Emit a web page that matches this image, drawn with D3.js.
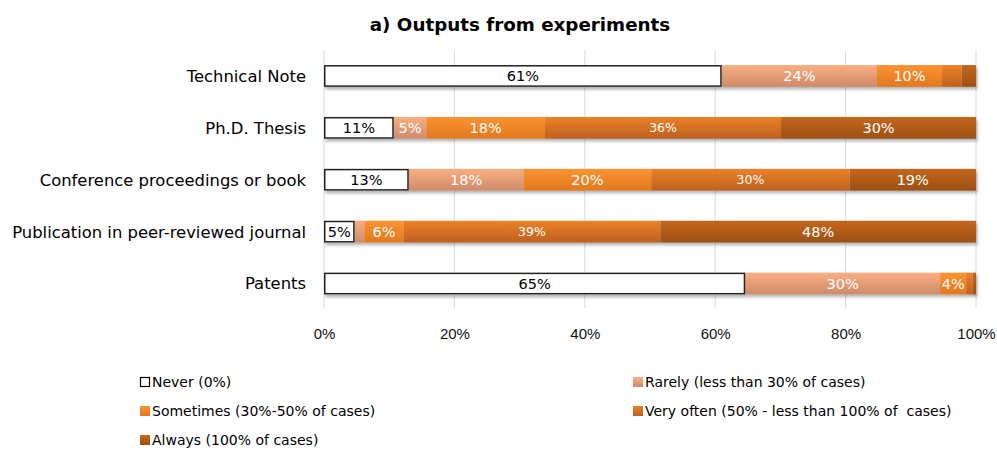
<!DOCTYPE html>
<html>
<head>
<meta charset="utf-8">
<script src="https://cdn.jsdelivr.net/npm/d3@7"></script>
<style>
  body { margin: 0; background: #fff; }
  svg { font-family: "DejaVu Sans", Verdana, sans-serif; }
</style>
</head>
<body>
<div id="chart"></div>
<script>
// categories, top to bottom
const outputs = ["Technical Note", "Ph.D. Thesis", "Conference proceedings or book",
                 "Publication in peer-reviewed journal", "Patents"];
const answers = ["Never (0%)", "Rarely (less than 30% of cases)", "Sometimes (30%-50% of cases)",
                 "Very often (50% - less than 100% of  cases)", "Always (100% of cases)"];
// % per answer, same order as outputs
const never     = [61, 10.7, 13, 4.7, 64.6];
const rarely    = [23.8, 5, 17.6, 1.5, 29.9];
const sometimes = [10, 18.2, 19.6, 6, 4];
const veryOften = [3, 36.2, 30.4, 39.4, 1];
const always    = [2.2, 29.9, 19.4, 48.4, 0.5];
const xTicks = [0, 20, 40, 60, 80, 100];

const width = 997, height = 450;
const margin = {left: 324, right: 21, top: 50, bottom: 309.5};

const svg = d3.select("#chart").append("svg")
    .attr("width", width)
    .attr("height", height);

const defs = svg.append("defs");
const colors = [
    ["#ffffff", "#ffffff"],
    ["#fbaf82", "#cd8a6a"],
    ["#fc9332", "#e1781f"],
    ["#ec8229", "#bd6020"],
    ["#c4671d", "#9c5014"]
];
colors.forEach((c, i) => {
    let g = defs.append("linearGradient").attr("id", "grad" + i)
        .attr("x1", 0).attr("y1", 0).attr("x2", 0).attr("y2", 1);
    g.append("stop").attr("offset", "0%").attr("stop-color", c[0]);
    g.append("stop").attr("offset", "100%").attr("stop-color", c[1]);
});
let shadow = defs.append("filter").attr("id", "shadow")
    .attr("x", "-5%").attr("y", "-20%").attr("width", "110%").attr("height", "160%");
shadow.append("feDropShadow").attr("dx", 1.5).attr("dy", 2.5)
    .attr("stdDeviation", 1.5).attr("flood-color", "#000").attr("flood-opacity", 0.3);

let x = d3.scaleLinear().domain([0, 100]).range([margin.left, width - margin.right]);
let y = d3.scaleBand().domain(outputs).range([margin.top, margin.bottom]).paddingInner(0.58).paddingOuter(0.29);

// title
svg.append("text")
    .attr("x", 520).attr("y", 31)
    .attr("text-anchor", "middle")
    .style("font-size", "18.3px").style("font-weight", "bold")
    .text("a) Outputs from experiments");

// gridlines
svg.append("g").selectAll("line")
    .data(xTicks).enter().append("line")
    .attr("x1", d => x(d)).attr("x2", d => x(d))
    .attr("y1", 50).attr("y2", 308)
    .attr("stroke", "#d6e1ef").attr("stroke-width", 1.2);

// x axis labels
let xAxis = svg.append("g")
    .attr("transform", "translate(0,325)")
    .call(d3.axisBottom(x).tickValues(xTicks).tickFormat(d => d + "%").tickSize(0));
xAxis.select(".domain").remove();
xAxis.selectAll("text").style("font-size", "15px").attr("fill", "#111")
    .style("font-family", "\"Liberation Sans\", Arial, sans-serif");

// y labels
svg.append("g").selectAll("text")
    .data(outputs).enter().append("text")
    .attr("x", 306)
    .attr("y", d => y(d) + y.bandwidth() / 2)
    .attr("dy", "0.36em")
    .attr("text-anchor", "end")
    .style("font-size", "16.4px")
    .text(d => d);

// stacked bars
const series = [never, rarely, sometimes, veryOften, always];
let rows = outputs.map((o, i) => {
    let start = 0;
    return series.map((s, k) => {
        let seg = {output: o, k: k, x0: start, x1: start + s[i], v: s[i]};
        start += s[i];
        return seg;
    });
});
// labels that Excel shrank
const smallLabels = ["Ph.D. Thesis|3", "Conference proceedings or book|3", "Publication in peer-reviewed journal|3"];

let barG = svg.append("g");
rows.forEach(row => {
    let g = barG.append("g").attr("filter", "url(#shadow)");
    g.selectAll("rect").data(row).enter().append("rect")
        .attr("x", d => x(d.x0))
        .attr("width", d => x(d.x1) - x(d.x0))
        .attr("y", d => y(d.output))
        .attr("height", y.bandwidth())
        .attr("fill", d => "url(#grad" + d.k + ")");
    // border on the white "Never" piece
    let n = row[0];
    g.append("rect")
        .attr("x", x(n.x0) + 0.75).attr("y", y(n.output) + 0.75)
        .attr("width", x(n.x1) - x(n.x0) - 1.5).attr("height", y.bandwidth() - 1.5)
        .attr("fill", "none").attr("stroke", "#222").attr("stroke-width", 1.5);
});
barG.selectAll(".lbl")
    .data(rows.flat().filter(d => d.v >= 4))
    .enter().append("text")
    .attr("class", "lbl")
    .attr("x", d => (x(d.x0) + x(d.x1)) / 2)
    .attr("y", d => y(d.output) + y.bandwidth() / 2)
    .attr("dy", "0.36em")
    .attr("text-anchor", "middle")
    .attr("fill", d => d.k == 0 ? "#000" : "#fff")
    .style("font-size", d => smallLabels.includes(d.output + "|" + d.k) ? "12.5px" : "14.5px")
    .text(d => Math.round(d.v) + "%");

// legend
let legend = svg.append("g");
let legPos = [[140, 382], [633, 382], [140, 411], [633, 411], [140, 440]];
answers.forEach((a, i) => {
    let item = legend.append("g").attr("transform", "translate(" + legPos[i][0] + "," + legPos[i][1] + ")");
    item.append("rect")
        .attr("x", i == 0 ? 0.5 : 0).attr("y", i == 0 ? -4.5 : -5)
        .attr("width", i == 0 ? 9 : 10).attr("height", i == 0 ? 9 : 10)
        .attr("fill", "url(#grad" + i + ")")
        .attr("stroke", i == 0 ? "#000" : "none").attr("stroke-width", 1.2);
    item.append("text")
        .attr("x", 12).attr("dy", "0.36em")
        .style("font-size", "14px")
        .style("white-space", "pre")
        .text(a);
});
</script>
</body>
</html>
